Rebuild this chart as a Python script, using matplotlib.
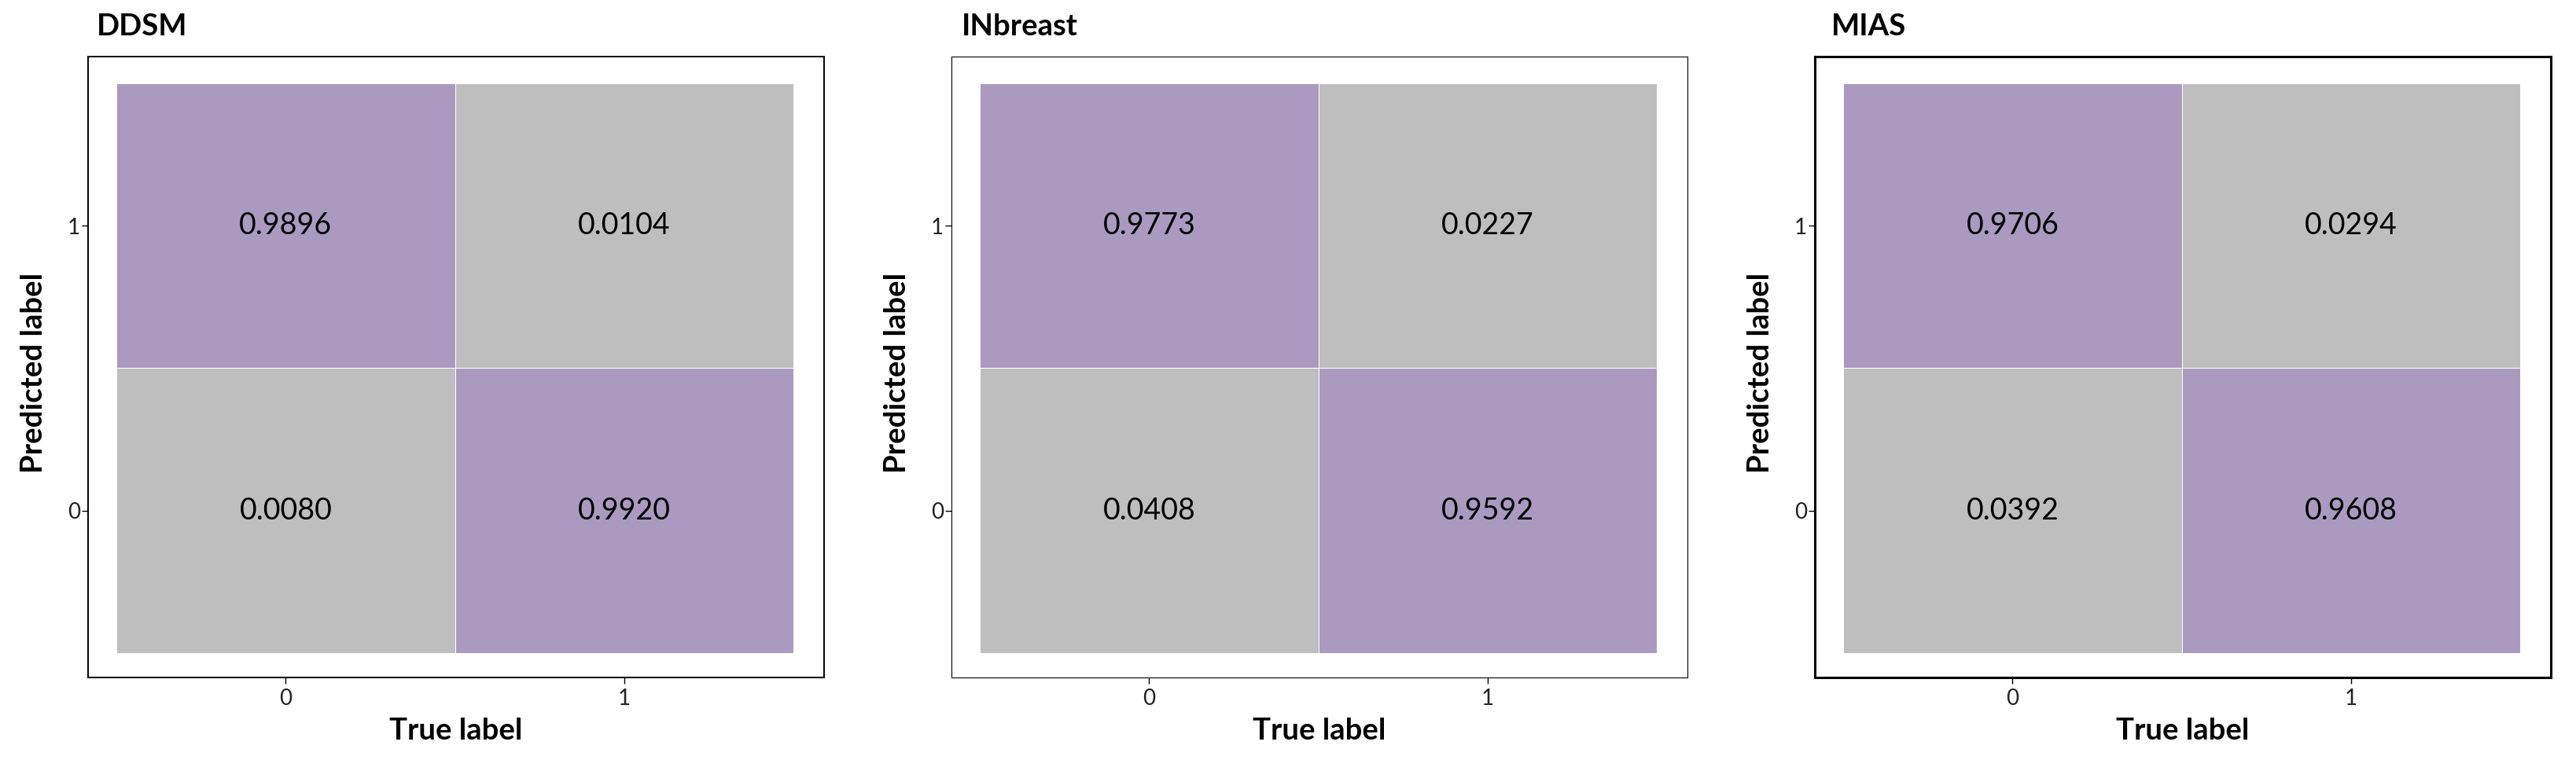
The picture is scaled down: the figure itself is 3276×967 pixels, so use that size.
import numpy as np
import matplotlib.pyplot as plt
from matplotlib.colors import ListedColormap, BoundaryNorm

plt.rcParams['font.family'] = ['Lato', 'DejaVu Sans']

# rows = predicted label (0, 1), columns = true label (0, 1)
names = ["DDSM", "INbreast", "MIAS"]
ddsm = [[0.0080, 0.9920], [0.9896, 0.0104]]
inbreast = [[0.0408, 0.9592], [0.9773, 0.0227]]
mias = [[0.0392, 0.9608], [0.9706, 0.0294]]
class_labels = ["0", "1"]

W, H = 3276, 967
fig = plt.figure(figsize=(W / 100, H / 100), dpi=100)

cmap = ListedColormap(['#bebebe', '#aa9ac0'])
norm = BoundaryNorm([0, 0.5, 1], 2)

lefts = [112, 1210, 2308]
title_off = [11, 13, 21]
frame_lw = [1.4, 0.8, 2.2]

for i, (name, mat) in enumerate(zip(names, [ddsm, inbreast, mias])):
	ax = fig.add_axes([lefts[i] / W, 105 / H, 936 / W, 790 / H])
	m = np.asarray(mat)
	edges = np.arange(len(class_labels) + 1) - 0.5
	ax.pcolormesh(edges, edges, m, cmap=cmap, norm=norm, edgecolors='white', linewidth=0.5)
	for r in range(m.shape[0]):
		for c in range(m.shape[1]):
			ax.text(c, r, f"{m[r, c]:.4f}", ha='center', va='center', fontsize=27, color='black')

	ax.set_xlim(-0.584, 1.59)
	ax.set_ylim(-0.586, 1.594)
	ax.set_xticks(range(len(class_labels)))
	ax.set_yticks(range(len(class_labels)))
	ax.set_xticklabels(class_labels)
	ax.set_yticklabels(class_labels)
	ax.tick_params(axis='both', length=6, width=1, labelsize=20, labelcolor='#222222')
	ax.tick_params(axis='x', pad=4)
	ax.tick_params(axis='y', pad=1)

	for s in ax.spines.values():
		s.set_linewidth(frame_lw[i])
		s.set_color('black')

	ax.set_xlabel("True label", fontsize=27.5, fontweight='bold', va='center')
	ax.xaxis.set_label_coords(0.5, -68 / 790)
	ax.set_ylabel("Predicted label", fontsize=27.5, fontweight='bold', va='center')
	ax.yaxis.set_label_coords(-69 / 936, 0.49)

	ax.text(title_off[i] / 936, 1 + 38 / 790, name, transform=ax.transAxes,
			ha='left', va='center', fontsize=27.5, fontweight='bold')

fig.savefig("out.png", dpi=100)
